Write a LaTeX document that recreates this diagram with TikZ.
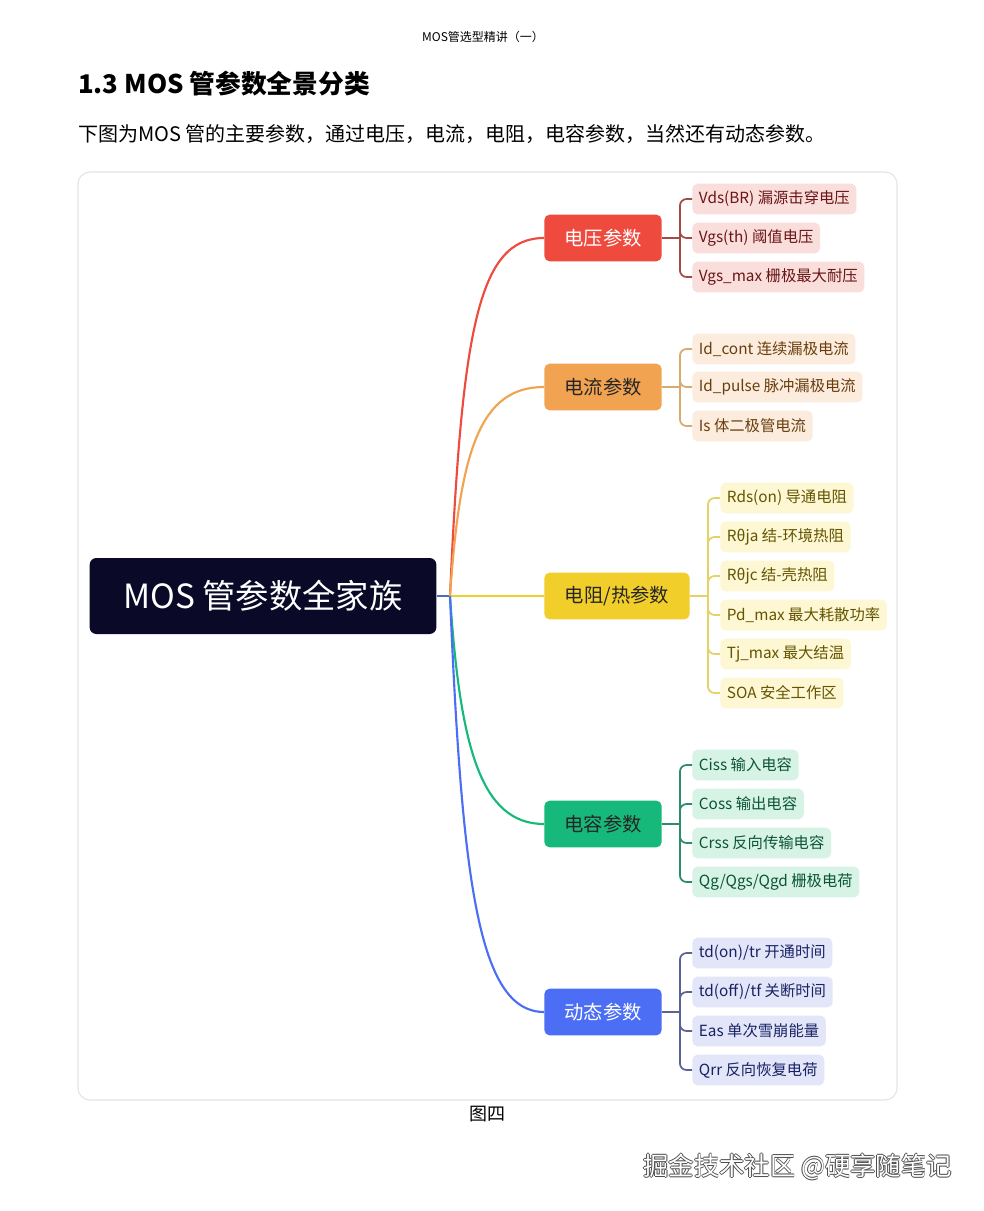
\documentclass[tikz,border=0pt]{standalone}
\usepackage{fontspec}
\setmainfont{Noto Sans CJK SC}
\usetikzlibrary{calc}
\definecolor{cRed}{RGB}{239,74,62}
\definecolor{cOra}{RGB}{241,163,82}
\definecolor{cYel}{RGB}{241,206,42}
\definecolor{cGrn}{RGB}{22,185,122}
\definecolor{cBlu}{RGB}{75,110,245}
\definecolor{rootC}{RGB}{10,10,40}
\definecolor{fRed}{RGB}{250,222,220}
\definecolor{fOra}{RGB}{252,236,222}
\definecolor{fYel}{RGB}{253,247,212}
\definecolor{fGrn}{RGB}{214,243,230}
\definecolor{fBlu}{RGB}{226,230,248}
\definecolor{tRed}{RGB}{105,22,22}
\definecolor{tOra}{RGB}{105,62,14}
\definecolor{tYel}{RGB}{100,84,0}
\definecolor{tGrn}{RGB}{12,84,55}
\definecolor{tBlu}{RGB}{25,35,100}
\definecolor{bRed}{RGB}{165,75,70}
\definecolor{bOra}{RGB}{215,170,110}
\definecolor{bYel}{RGB}{226,211,100}
\definecolor{bGrn}{RGB}{45,140,110}
\definecolor{bBlu}{RGB}{90,98,150}
\definecolor{frameC}{RGB}{228,228,228}
\begin{document}
\begin{tikzpicture}[x=0.75pt,y=-0.75pt,
  cat/.style={rounded corners=4pt, minimum width=88pt, minimum height=35pt, inner sep=0pt, font=\fontsize{14.5}{16}\selectfont},
  leaf/.style={anchor=west, rounded corners=4pt, minimum height=23pt, inner xsep=5pt, inner ysep=0pt, font=\fontsize{11.5}{13}\selectfont},
  curve/.style={line width=1.6pt},
  brk/.style={line width=1.3pt, rounded corners=5pt}]
\useasboundingbox (0,0) rectangle (983,1211);
\fill[white] (0,0) rectangle (983,1211);

\node (hdr) at (483,37) {\fontsize{9}{10}\selectfont MOS管选型精讲（一）};
\node[anchor=west, inner sep=0pt] (title) at (78,84) {\fontsize{19.3}{21}\selectfont\bfseries 1.3 MOS 管参数全景分类};
\node[anchor=west, inner sep=0pt] (sub) at (78,134) {\fontsize{15}{17}\selectfont 下图为MOS 管的主要参数，通过电压，电流，电阻，电容参数，当然还有动态参数。};

\draw[frameC, line width=0.8pt, rounded corners=9pt] (78,172) rectangle (897,1100);

\node[fill=rootC, text=white, rounded corners=5pt, minimum width=260pt, minimum height=57pt, inner sep=0pt, font=\fontsize{25}{28}\selectfont] (root) at (263,596) {MOS 管参数全家族};

\node[cat, fill=cRed, text=white] (v) at (603,238) {电压参数};
\node[cat, fill=cOra, text=black!85] (i) at (603,387) {电流参数};
\node[cat, fill=cYel, text=black!85, minimum width=109pt] (r) at (617,596) {电阻/热参数};
\node[cat, fill=cGrn, text=black!85] (c) at (603,824) {电容参数};
\node[cat, fill=cBlu, text=white] (d) at (603,1012) {动态参数};

\coordinate (J) at (450,596);
\draw[curve, color=cBlu!80!black!90] (root.east) -- (J);
\draw[curve, cRed] (J) .. controls (462,330) and (478,238) .. (v.west);
\draw[curve, cOra] (J) .. controls (460,450) and (480,387) .. (i.west);
\draw[curve, cYel] (J) -- (r.west);
\draw[curve, cGrn] (J) .. controls (460,745) and (480,824) .. (c.west);
\draw[curve, cBlu] (J) .. controls (462,880) and (478,1012) .. (d.west);

% voltage leaves
\node[leaf, fill=fRed, text=tRed] (v1) at (692,199) {Vds(BR) 漏源击穿电压};
\node[leaf, fill=fRed, text=tRed] (v2) at (692,238) {Vgs(th) 阈值电压};
\node[leaf, fill=fRed, text=tRed] (v3) at (692,277) {Vgs\_max 栅极最大耐压};
\draw[brk, bRed] (v.east) -- ++(18,0);
\foreach \n in {v1,v2,v3} \draw[brk, bRed] (v.east) ++(18,0) |- (\n.west);

% current leaves
\node[leaf, fill=fOra, text=tOra] (i1) at (692,349) {Id\_cont 连续漏极电流};
\node[leaf, fill=fOra, text=tOra] (i2) at (692,387) {Id\_pulse 脉冲漏极电流};
\node[leaf, fill=fOra, text=tOra] (i3) at (692,426) {Is 体二极管电流};
\draw[brk, bOra] (i.east) -- ++(18,0);
\foreach \n in {i1,i2,i3} \draw[brk, bOra] (i.east) ++(18,0) |- (\n.west);

% resistance / thermal leaves
\node[leaf, fill=fYel, text=tYel] (r1) at (720,498) {Rds(on) 导通电阻};
\node[leaf, fill=fYel, text=tYel] (r2) at (720,537) {Rθja 结-环境热阻};
\node[leaf, fill=fYel, text=tYel] (r3) at (720,576) {Rθjc 结-壳热阻};
\node[leaf, fill=fYel, text=tYel] (r4) at (720,615) {Pd\_max 最大耗散功率};
\node[leaf, fill=fYel, text=tYel] (r5) at (720,654) {Tj\_max 最大结温};
\node[leaf, fill=fYel, text=tYel] (r6) at (720,693) {SOA 安全工作区};
\draw[brk, bYel] (r.east) -- ++(18,0);
\foreach \n in {r1,r2,r3,r4,r5,r6} \draw[brk, bYel] (r.east) ++(18,0) |- (\n.west);

% capacitance leaves
\node[leaf, fill=fGrn, text=tGrn] (c1) at (692,765) {Ciss 输入电容};
\node[leaf, fill=fGrn, text=tGrn] (c2) at (692,804) {Coss 输出电容};
\node[leaf, fill=fGrn, text=tGrn] (c3) at (692,843) {Crss 反向传输电容};
\node[leaf, fill=fGrn, text=tGrn] (c4) at (692,882) {Qg/Qgs/Qgd 栅极电荷};
\draw[brk, bGrn] (c.east) -- ++(18,0);
\foreach \n in {c1,c2,c3,c4} \draw[brk, bGrn] (c.east) ++(18,0) |- (\n.west);

% dynamic leaves
\node[leaf, fill=fBlu, text=tBlu] (d1) at (692,953) {td(on)/tr 开通时间};
\node[leaf, fill=fBlu, text=tBlu] (d2) at (692,992) {td(off)/tf 关断时间};
\node[leaf, fill=fBlu, text=tBlu] (d3) at (692,1031) {Eas 单次雪崩能量};
\node[leaf, fill=fBlu, text=tBlu] (d4) at (692,1070) {Qrr 反向恢复电荷};
\draw[brk, bBlu] (d.east) -- ++(18,0);
\foreach \n in {d1,d2,d3,d4} \draw[brk, bBlu] (d.east) ++(18,0) |- (\n.west);

\node (cap) at (487,1114) {\fontsize{13.5}{15}\selectfont 图四};

% bottom-right watermark (outlined text)
\foreach \dx/\dy in {-0.8/0,0.8/0,0/-0.8,0/0.8} {
  \node[anchor=east, text=black!70, inner sep=0pt] at ($(952,1167)+(\dx,\dy)$) {\fontsize{19}{21}\selectfont 掘金技术社区 @硬享随笔记};
}
\node[anchor=east, text=white, inner sep=0pt] (wm) at (952,1167) {\fontsize{19}{21}\selectfont 掘金技术社区 @硬享随笔记};
\end{tikzpicture}
\end{document}
